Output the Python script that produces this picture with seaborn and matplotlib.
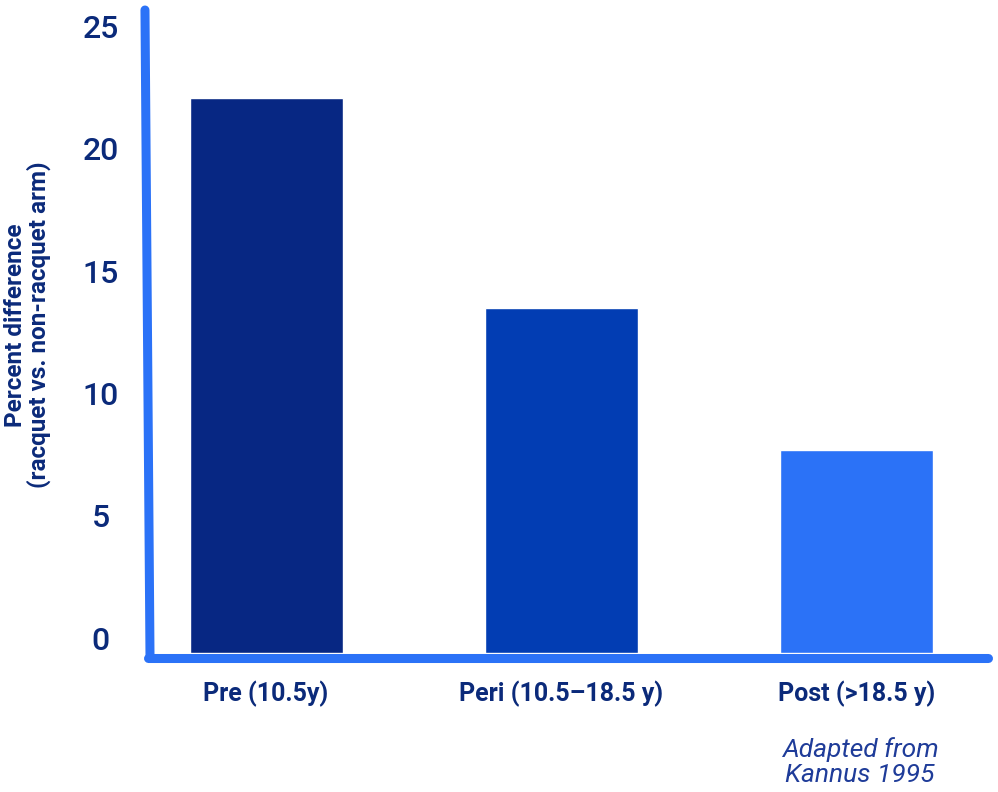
import matplotlib
matplotlib.use("Agg")
import matplotlib.pyplot as plt
import matplotlib.transforms as mtransforms
import seaborn as sns
import pandas as pd

stages = ["Pre (10.5y)", "Peri (10.5\u201318.5 y)", "Post (>18.5 y)"]
pct_diff = [22.7, 14.1, 8.3]
bar_colors = ["#072783", "#023db3", "#2b72f7"]
y_ticks = [0, 5, 10, 15, 20, 25]

navy = "#0b2a7a"
axis_blue = "#2b72f7"

sns.set_theme(style="white")
plt.rcParams["font.family"] = ["Roboto", "DejaVu Sans"]

fig = plt.figure(figsize=(9.98, 7.92), dpi=100)
ax = fig.add_axes([148 / 998, 1 - 653 / 792, 840 / 998, 643 / 792])

df = pd.DataFrame({"stage": stages, "pct": pct_diff})
sns.barplot(data=df, x="stage", y="pct", hue="stage", palette=bar_colors,
            width=0.518, legend=False, ax=ax, saturation=1)

ax.set_xlim(-0.40, 2.445)
ax.set_ylim(0, 26.29)
for s in ax.spines.values():
    s.set_visible(False)

# hand-drawn looking axis lines
ax.plot([-0.0036, 0.0024], [1.0, -0.008], color=axis_blue, lw=6.5,
        solid_capstyle="round", transform=ax.transAxes, clip_on=False, zorder=5)
ax.plot([0.0, 1.0], [-0.008, -0.008], color=axis_blue, lw=6.5,
        solid_capstyle="round", transform=ax.transAxes, clip_on=False, zorder=5)

ax.set_yticks(y_ticks)
ax.set_yticklabels([str(t) for t in y_ticks])
ax.tick_params(axis="y", length=0, pad=34, labelsize=23, labelcolor=navy)
ax.tick_params(axis="x", length=0, pad=20, labelsize=18, labelcolor=navy)
shift = mtransforms.ScaledTranslation(0, 0.15, fig.dpi_scale_trans)
for lbl in ax.get_yticklabels():
    lbl.set_horizontalalignment("center")
    lbl.set_fontweight("medium")
    lbl.set_transform(lbl.get_transform() + shift)
for lbl in ax.get_xticklabels():
    lbl.set_fontweight("bold")

ax.set_xlabel("")
ax.set_ylabel("Percent difference\n(racquet vs. non-racquet arm)", fontsize=17.5,
              color=navy, fontweight="bold", linespacing=0.98)
ax.yaxis.set_label_coords(-0.115, 0.51)

fig.text(860 / 998, 1 - 762 / 792, "Adapted from\nKannus 1995", ha="center",
         va="center", fontsize=19, style="italic", color="#1f3c99", linespacing=1.05)

fig.savefig("out.png", dpi=100)
